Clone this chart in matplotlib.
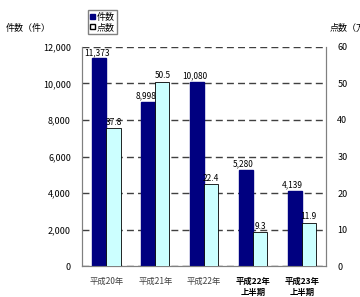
import numpy as np
import matplotlib
matplotlib.use("Agg")
import matplotlib.pyplot as plt
from matplotlib.patches import Patch

plt.rcParams['font.family'] = ['Noto Sans CJK JP', 'DejaVu Sans']

categories = ["平成20年", "平成21年", "平成22年", "平成22年\n上半期", "平成23年\n上半期"]
cases = [11373, 8998, 10080, 5280, 4139]
points = [37.8, 50.5, 22.4, 9.3, 11.9]
case_labels = ["11,373", "8,998", "10,080", "5,280", "4,139"]
point_labels = ["37.8", "50.5", "22.4", "9.3", "11.9"]

navy = "#000080"
light = "#CCFFFF"
grey = "#808080"

fig = plt.figure(figsize=(3.6, 2.97), dpi=100)
ax = fig.add_axes([0.228, 0.104, 0.678, 0.738])
ax2 = ax.twinx()

x = np.arange(len(categories))
w = 0.29
ax.bar(x - w / 2, cases, w, color=navy, edgecolor=navy, zorder=3)
ax2.bar(x + w / 2, points, w, color=light, edgecolor="black", linewidth=0.6, zorder=3)

# draw all value labels on ax2 so the cyan bars don't cover them
for xi, v, s in zip(x, cases, case_labels):
    ax2.text(xi - w / 2 - 0.05, v + 80, s, ha="center", va="bottom", fontsize=6,
             transform=ax.transData, zorder=5)
for xi, v, s in zip(x, points, point_labels):
    ax2.text(xi + w / 2, v + 0.4, s, ha="center", va="bottom", fontsize=6, zorder=5)

ax.set_xlim(-0.5, 4.5)
ax.set_ylim(0, 12000)
ax2.set_ylim(0, 60)
ax.set_yticks(range(0, 12001, 2000))
ax.set_yticklabels([f"{v:,}" for v in range(0, 12001, 2000)], fontsize=6.5)
ax2.set_yticks(range(0, 61, 10))
ax2.set_yticklabels([str(v) for v in range(0, 61, 10)], fontsize=6.5)
ax.yaxis.grid(True, linestyle=(0, (5, 3)), color="#404040", linewidth=1.0, zorder=0)
ax.set_axisbelow(True)

ax.set_xticks(x)
ax.set_xticklabels(categories, fontsize=6)
for lbl in ax.get_xticklabels()[3:]:
    lbl.set_fontweight("bold")
    lbl.set_fontstyle("italic")
for lbl in ax.get_xticklabels()[:3]:
    lbl.set_color("#404040")

ax.tick_params(length=0, pad=8)
ax2.tick_params(length=0, pad=8)
for a in (ax, ax2):
    for sp in a.spines.values():
        sp.set_color(grey)
        sp.set_linewidth(0.8)
    a.spines["top"].set_visible(False)

fig.text(0.015, 0.905, "件数（件）", fontsize=6.5, va="center")
fig.text(0.915, 0.905, "点数（万", fontsize=6.5, va="center")

handles = [Patch(facecolor=navy, edgecolor=navy, label="件数"),
           Patch(facecolor="white", edgecolor="black", label="点数")]
fig.legend(handles=handles, loc="upper left", bbox_to_anchor=(0.245, 0.965),
           fontsize=6.5, frameon=True, fancybox=False, edgecolor="#606060",
           handlelength=0.5, handleheight=0.5, handletextpad=0.2,
           borderpad=0.25, labelspacing=0.15, borderaxespad=0)

fig.savefig("out.png", dpi=100)
